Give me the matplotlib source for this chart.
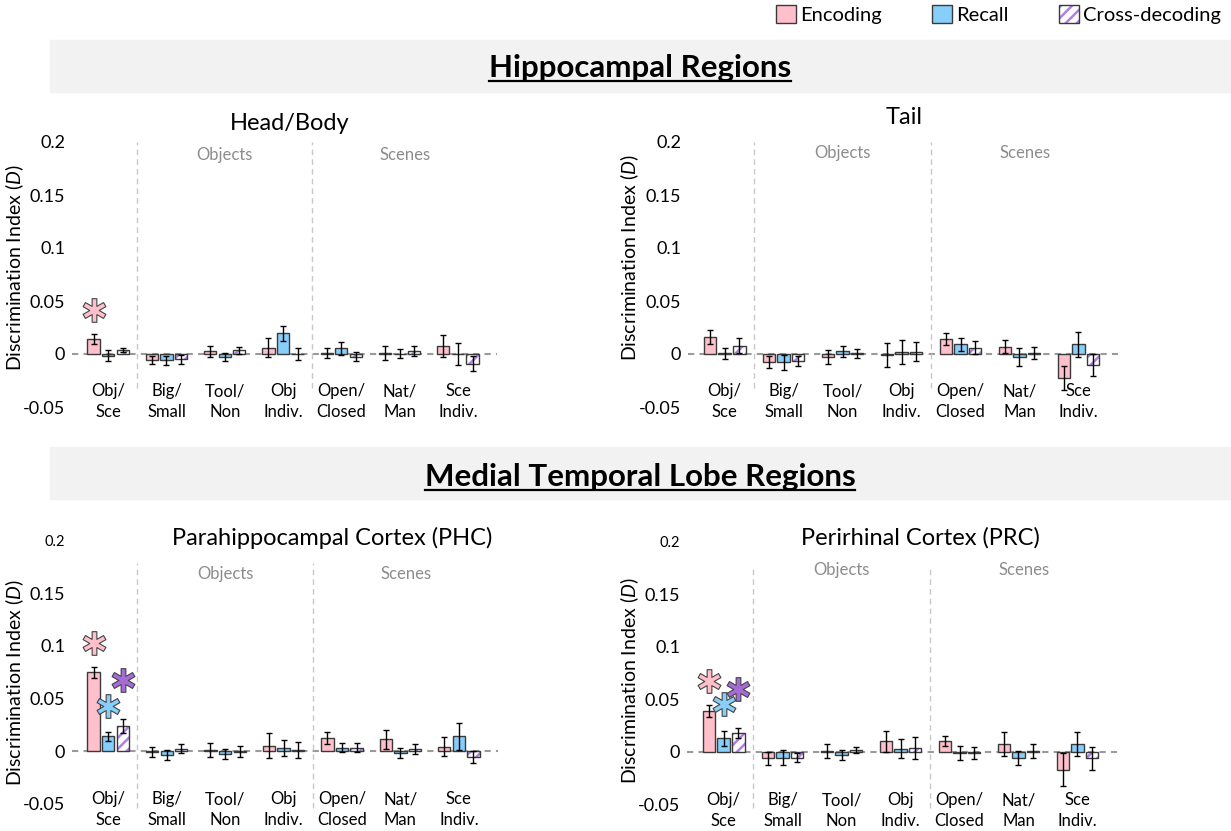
import numpy as np
import matplotlib
matplotlib.use('Agg')
from matplotlib import pyplot as plt
from matplotlib.patches import Rectangle, Patch
from matplotlib.path import Path
from matplotlib.lines import Line2D
from matplotlib.legend_handler import HandlerTuple

# categories shared by all four panels
categories = ['Obj/\nSce', 'Big/\nSmall', 'Tool/\nNon', 'Obj\nIndiv.',
              'Open/\nClosed', 'Nat/\nMan', 'Sce\nIndiv.']
series_names = ['Encoding', 'Recall', 'Cross-decoding']

# hippocampus head/body
hb_enc = [0.014, -0.0057, 0.0025, 0.006, 0.001, 0.001, 0.0075]
hb_enc_err = [0.0045, 0.004, 0.0055, 0.009, 0.0047, 0.007, 0.01]
hb_rec = [-0.0015, -0.006, -0.003, 0.0195, 0.0053, 0.0003, 0.0]
hb_rec_err = [0.0055, 0.0045, 0.0035, 0.007, 0.0058, 0.0045, 0.01]
hb_cross = [0.0035, -0.005, 0.0035, 0.0, -0.0025, 0.003, -0.009]
hb_cross_err = [0.002, 0.004, 0.0035, 0.006, 0.004, 0.0045, 0.0068]
hb_sig = [(0, 0)]

# hippocampus tail
tail_enc = [0.016, -0.0075, -0.003, -0.001, 0.014, 0.007, -0.0226]
tail_enc_err = [0.0065, 0.0055, 0.0068, 0.0115, 0.0055, 0.0063, 0.011]
tail_rec = [0.0005, -0.008, 0.0025, 0.002, 0.009, -0.003, 0.009]
tail_rec_err = [0.0055, 0.007, 0.005, 0.0115, 0.0057, 0.0087, 0.0115]
tail_cross = [0.0078, -0.007, 0.0005, 0.002, 0.006, 0.001, -0.0104]
tail_cross_err = [0.007, 0.0047, 0.004, 0.009, 0.006, 0.0057, 0.010]
tail_sig = []

# parahippocampal cortex
phc_enc = [0.075, -0.001, 0.001, 0.005, 0.0124, 0.011, 0.004]
phc_enc_err = [0.005, 0.005, 0.007, 0.012, 0.0053, 0.0087, 0.009]
phc_rec = [0.014, -0.0035, -0.003, 0.003, 0.003, -0.002, 0.014]
phc_rec_err = [0.004, 0.0048, 0.0046, 0.0076, 0.0043, 0.0048, 0.0127]
phc_cross = [0.024, 0.002, -0.0005, 0.001, 0.003, 0.002, -0.006]
phc_cross_err = [0.0064, 0.0043, 0.005, 0.0075, 0.0043, 0.0048, 0.0056]
phc_sig = [(0, 0), (0, 1), (0, 2)]

# perirhinal cortex
prc_enc = [0.039, -0.006, 0.001, 0.0104, 0.0104, 0.0076, -0.0167]
prc_enc_err = [0.0055, 0.0063, 0.0065, 0.01, 0.005, 0.011, 0.016]
prc_rec = [0.013, -0.0053, -0.003, 0.003, -0.001, -0.0057, 0.0076]
prc_rec_err = [0.0074, 0.0068, 0.005, 0.009, 0.007, 0.007, 0.0115]
prc_cross = [0.018, -0.0053, 0.0022, 0.0035, -0.001, 0.001, -0.006]
prc_cross_err = [0.0047, 0.0043, 0.003, 0.0105, 0.0053, 0.0068, 0.011]
prc_sig = [(0, 0), (0, 1), (0, 2)]

yticks = [-0.05, 0, 0.05, 0.1, 0.15, 0.2]
ytick_labels = ['-0.05', '0', '0.05', '0.1', '0.15', '0.2']

plt.rcParams['font.family'] = ['Lato', 'DejaVu Sans']
plt.rcParams['mathtext.fontset'] = 'custom'
plt.rcParams['mathtext.rm'] = 'Lato'
plt.rcParams['mathtext.it'] = 'Lato:italic'
plt.rcParams['hatch.linewidth'] = 1.8

pink = '#FFC0CB'
blue = '#87CEFA'
purple = '#B27FE6'
star_purple = '#A66BD6'
edge = '#3a3a3a'
W, H = 1231, 831

fig = plt.figure(figsize=(W / 100, H / 100), dpi=100)


def fx(x):
    return x / W


def fy(y):
    return 1 - y / H


def asterisk(w=0.2):
    # six-armed asterisk outline so it can be filled and edged
    verts = []
    for k in range(6):
        t = np.deg2rad(90 + 60 * k)
        d = np.array([np.cos(t), np.sin(t)])
        p = np.array([-np.sin(t), np.cos(t)])
        verts.append(d - w * p)
        verts.append(d + w * p)
        t2 = t + np.deg2rad(30)
        verts.append(2 * w * np.array([np.cos(t2), np.sin(t2)]))
    verts.append(verts[0])
    codes = [Path.MOVETO] + [Path.LINETO] * (len(verts) - 2) + [Path.CLOSEPOLY]
    return Path(verts, codes)


star = asterisk()
ylo, yhi = -0.07, 0.2


def make_axes(left, right, zero_px, k):
    top = zero_px - yhi * k
    bottom = zero_px - ylo * k
    ax = fig.add_axes([fx(left), fy(bottom), (right - left) / W, (bottom - top) / H])
    ax.set_xlim(-0.62, 6.67)
    ax.set_ylim(ylo, yhi)
    ax.patch.set_visible(False)
    for s in ax.spines.values():
        s.set_visible(False)
    return ax


def draw_panel(ax, vals, errs, sig, obj_y, div_top, div_bot, cat_y, small_top):
    x = np.arange(len(categories))
    width = 0.21
    offs = [-0.25, 0, 0.25]
    ax.axhline(0, color='#9a9a9a', lw=1.5, ls=(0, (3, 2.5)), zorder=1)
    for d in [0.5, 3.5]:
        ax.plot([d, d], [div_bot, div_top], color='#c8c8c8', lw=1, ls=(0, (4, 3)), zorder=1)
    # encoding and recall bars
    ax.bar(x + offs[0], vals[0], width, color=pink, edgecolor=edge, lw=1, zorder=3)
    ax.bar(x + offs[1], vals[1], width, color=blue, edgecolor=edge, lw=1, zorder=3)
    # cross-decoding: purple hatch on white with dark outline
    ax.bar(x + offs[2], vals[2], width, color='white', edgecolor=purple, hatch='///', lw=0, zorder=3)
    ax.bar(x + offs[2], vals[2], width, fill=False, edgecolor=edge, lw=1, zorder=3.5)
    for i in range(3):
        ax.errorbar(x + offs[i], vals[i], yerr=errs[i], fmt='none', ecolor='black',
                     elinewidth=1, capsize=2.5, capthick=1, zorder=4)
    star_cols = [pink, blue, star_purple]
    star_gap = [0.023, 0.025, 0.037]
    for c, s in sig:
        ax.plot(x[c] + offs[s], vals[s][c] + errs[s][c] + star_gap[s], marker=star,
                markersize=17, mfc=star_cols[s], mec='#444444', mew=0.8, ls='none', zorder=5)
    ax.text(2, obj_y, 'Objects', ha='center', va='center', fontsize=12, color='#8c8c8c')
    ax.text(5.1, obj_y, 'Scenes', ha='center', va='center', fontsize=12, color='#8c8c8c')
    for i, lab in enumerate(categories):
        ax.text(i, cat_y, lab, ha='center', va='center', fontsize=12, linespacing=1.35,
                clip_on=False)
    ax.set_xticks([])
    ax.set_yticks(yticks)
    ax.set_yticklabels(ytick_labels)
    ax.tick_params(axis='y', length=0, pad=5, labelsize=13)
    if small_top:
        ax.get_yticklabels()[-1].set_fontsize(10.5)


ylabel = r'Discrimination Index ($\mathit{D}$)'

# hippocampal row
ax1 = make_axes(72, 497, 354, 1060)
draw_panel(ax1, [hb_enc, hb_rec, hb_cross], [hb_enc_err, hb_rec_err, hb_cross_err],
           hb_sig, 0.188, 0.2, -0.032, -0.045, False)
ax2 = make_axes(688, 1118, 354, 1060)
draw_panel(ax2, [tail_enc, tail_rec, tail_cross], [tail_enc_err, tail_rec_err, tail_cross_err],
           tail_sig, 0.19, 0.2, -0.032, -0.045, False)

# medial temporal lobe row
ax3 = make_axes(72, 498, 751, 1050)
draw_panel(ax3, [phc_enc, phc_rec, phc_cross], [phc_enc_err, phc_rec_err, phc_cross_err],
           phc_sig, 0.169, 0.179, -0.054, -0.0557, True)
ax4 = make_axes(687, 1117, 752, 1052)
draw_panel(ax4, [prc_enc, prc_rec, prc_cross], [prc_enc_err, prc_rec_err, prc_cross_err],
           prc_sig, 0.173, 0.178, -0.053, -0.0557, True)

# panel titles and y labels
fig.text(fx(290), fy(124), 'Head/Body', ha='center', va='center', fontsize=17)
fig.text(fx(904), fy(118), 'Tail', ha='center', va='center', fontsize=17)
fig.text(fx(332), fy(538), 'Parahippocampal Cortex (PHC)', ha='center', va='center', fontsize=17)
fig.text(fx(920), fy(538), 'Perirhinal Cortex (PRC)', ha='center', va='center', fontsize=17)
for xp, yp in [(15, 268), (630, 258), (15, 683), (630, 681)]:
    fig.text(fx(xp), fy(yp), ylabel, rotation=90, ha='center', va='center', fontsize=14)

# grey section bands with underlined headings
heads = []
for top, bot, txt, ty in [(40, 92, 'Hippocampal Regions', 68),
                          (447, 499, 'Medial Temporal Lobe Regions', 477)]:
    fig.patches.append(Rectangle((fx(50), fy(bot)), (W - 50) / W, (bot - top) / H,
                                 transform=fig.transFigure, color='#F2F2F2', zorder=0))
    heads.append(fig.text(fx(640), fy(ty), txt, ha='center', va='center',
                          fontsize=22.5, fontweight='bold'))
fig.canvas.draw()
rend = fig.canvas.get_renderer()
for t in heads:
    bb = t.get_window_extent(rend)
    fig.add_artist(Line2D([bb.x0 / W, bb.x1 / W], [(bb.y0 + 1) / H] * 2,
                          transform=fig.transFigure, color='black', lw=1.6))

# legend
h_enc = Patch(facecolor=pink, edgecolor=edge, lw=1)
h_rec = Patch(facecolor=blue, edgecolor=edge, lw=1)
h_cross = (Patch(facecolor='white', edgecolor=purple, hatch='///', lw=0),
           Patch(fill=False, edgecolor=edge, lw=1))
fig.legend([h_enc, h_rec, h_cross], series_names, loc='upper right',
           bbox_to_anchor=(fx(1221), fy(5)), ncol=3, frameon=False, fontsize=14.5,
           handlelength=1.0, handleheight=1.0, handletextpad=0.2, columnspacing=2.5,
           borderpad=0, borderaxespad=0, handler_map={tuple: HandlerTuple(ndivide=1)})

fig.savefig('out.png', dpi=100)
